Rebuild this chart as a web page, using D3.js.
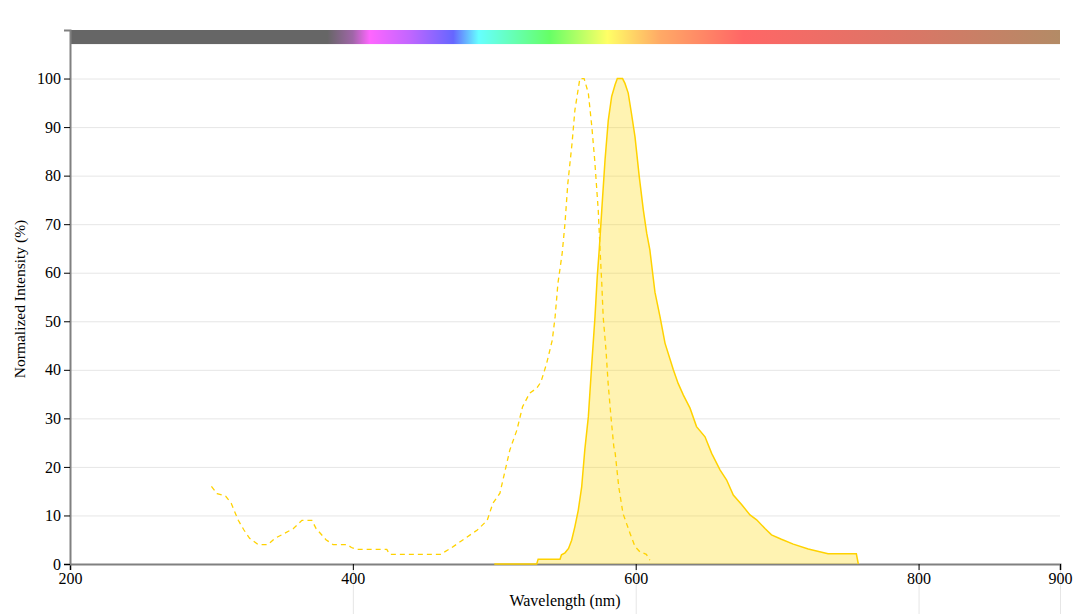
<!DOCTYPE html>
<html>
<head>
<meta charset="utf-8">
<script src="https://cdn.jsdelivr.net/npm/d3@7"></script>
<style>
  body { margin: 0; background: #fff; }
  svg text { font-family: "Liberation Serif", "Times New Roman", serif; }
  .grid line { stroke: #e6e6e6; stroke-width: 1; }
  .grid path { display: none; }
  .axis path { stroke: #808080; stroke-width: 2; }
  .axis line { stroke: #000; }
  .axis text { font-size: 16px; fill: #000; }
</style>
</head>
<body>
<div id="chart"></div>
<script>
// excitation spectrum (dashed), wavelength nm / normalized %
let exWave = [300, 304, 310, 314, 319, 323, 327, 333, 340, 345, 351, 358, 364, 371, 374, 381, 386, 396, 399, 403,
    424, 426, 462, 469, 478, 488, 495, 499, 504, 511, 516, 520, 525, 530, 533, 537, 541, 543, 545, 548,
    550, 552, 555, 557, 560.5, 563.5, 566.5, 569, 571, 573.5, 575, 576, 577, 579, 580.5, 582.5, 584.5, 585.5, 588, 591,
    596, 599.5, 603, 607.5, 610];
let exValue = [16, 14.5, 14, 12.5, 9, 7, 5.3, 4, 4, 5.3, 6.2, 7.3, 9, 9, 7.3, 5, 4, 4, 3.4, 3,
    3, 2, 2, 3.2, 5, 7, 9, 12.5, 14.6, 23.5, 27.6, 32.4, 35.2, 36.2, 37.5, 41.3, 46.1, 50.9, 57.8, 64,
    70.2, 78.4, 86.7, 93.5, 100, 100, 97, 90, 83.2, 72.9, 63.5, 57.8, 50.9, 44, 37.2, 30.3, 24.2, 22.8, 15.9, 10.4,
    6.3, 3.6, 2.5, 2, 0.8];

// emission spectrum (filled)
let emWave = [500, 530, 531, 546.5, 547.5, 550, 552.5, 554.7, 557, 559.4, 561.8, 564, 566.5, 568.8, 571.2, 572.8, 574.2, 576,
    578.3, 580.6, 583, 585.4, 587, 590.7, 592.4, 594.7, 597, 599.5, 602.5, 605.4, 607.8, 610, 613.6, 617.2, 620.7, 626.6,
    630, 633.7, 638.4, 643, 649, 653.7, 659.6, 664.3, 669, 675, 680.8, 685.5, 691.4, 696, 703, 711.4, 722, 736, 756, 757.4];
let emValue = [0, 0, 1, 1, 1.9, 2.3, 3.2, 4.9, 7.7, 11.1, 15.9, 23.5, 30.3, 40.6, 50.9, 59.2, 64.7, 72.9,
    83.2, 91.4, 96.3, 98.7, 100, 100, 99, 97, 92.8, 88, 79.8, 72.9, 68.1, 64.7, 56, 50.9, 45.5, 40,
    37.2, 34.8, 32.1, 28.3, 26.2, 22.8, 19.4, 17.3, 14.2, 12.2, 10.1, 9.1, 7.3, 6, 5.1, 4.1, 3.1, 2.1, 2.1, 0];

let xTicks = [200, 400, 600, 800, 900];
let yTicks = [0, 10, 20, 30, 40, 50, 60, 70, 80, 90, 100];

// visible spectrum strip along the top
let stripWave = [200, 382, 400, 412, 440, 471, 489, 539, 580, 600, 617, 676, 800, 900];
let stripColor = ["#666666", "#666666", "#a066a8", "#ff66ff", "#c266ff", "#6666ff", "#66ffff", "#66ff66", "#ffff66",
    "#ffd066", "#ffaa66", "#ff6666", "#d87766", "#b38b66"];

let exData = exWave.map((w, i) => ({ w: w, v: exValue[i] }));
let emData = emWave.map((w, i) => ({ w: w, v: emValue[i] }));

let width = 1080, height = 614;
let margin = { left: 70, right: 20, top: 30, bottom: 50 };
let innerW = width - margin.left - margin.right;
let innerH = height - margin.top - margin.bottom;

let svg = d3.select("#chart").append("svg")
    .attr("width", width)
    .attr("height", height);

let xScale = d3.scaleLinear().domain([200, 900]).range([0, innerW]);
let yScale = d3.scaleLinear().domain([0, 110]).range([innerH, 0]);

let g = svg.append("g")
    .attr("transform", "translate(" + margin.left + "," + margin.top + ")");

// gridlines
g.append("g")
    .attr("class", "grid")
    .call(d3.axisLeft(yScale).tickValues(yTicks).tickSize(-innerW).tickFormat(""));
g.append("g")
    .attr("class", "grid")
    .attr("transform", "translate(0," + innerH + ")")
    .call(d3.axisBottom(xScale).tickValues(xTicks.slice(1)).tickSize(innerH).tickFormat(""));

// spectrum strip
let grad = svg.append("defs").append("linearGradient")
    .attr("id", "spectrum")
    .attr("x1", "0%").attr("x2", "100%");
grad.selectAll("stop")
    .data(stripWave)
    .join("stop")
    .attr("offset", d => ((d - 200) / 700 * 100) + "%")
    .attr("stop-color", (d, i) => stripColor[i]);

g.append("rect")
    .attr("x", xScale(200))
    .attr("y", yScale(110))
    .attr("width", xScale(900) - xScale(200))
    .attr("height", yScale(107.1) - yScale(110))
    .attr("fill", "url(#spectrum)");

// axes
g.append("g")
    .attr("class", "axis")
    .attr("transform", "translate(0," + innerH + ")")
    .call(d3.axisBottom(xScale).tickValues(xTicks).tickSizeOuter(0).tickSize(6));

g.append("g")
    .attr("class", "axis")
    .call(d3.axisLeft(yScale).tickValues(yTicks).tickSizeOuter(0).tickSize(6));

// emission area
let area = d3.area()
    .x(d => xScale(d.w))
    .y0(yScale(0))
    .y1(d => yScale(d.v));
let line = d3.line()
    .x(d => xScale(d.w))
    .y(d => yScale(d.v));

g.append("path")
    .datum(emData)
    .attr("d", area)
    .attr("fill", "rgba(255, 215, 0, 0.3)");
g.append("path")
    .datum(emData)
    .attr("d", line)
    .attr("fill", "none")
    .attr("stroke", "#ffd200")
    .attr("stroke-width", 1.5);

// excitation line
g.append("path")
    .datum(exData)
    .attr("d", line)
    .attr("fill", "none")
    .attr("stroke", "#ffd200")
    .attr("stroke-width", 1.3)
    .attr("stroke-dasharray", "5,4");

// axis titles
svg.append("text")
    .attr("x", margin.left + innerW / 2)
    .attr("y", 606)
    .attr("text-anchor", "middle")
    .attr("font-size", 16)
    .text("Wavelength (nm)");

svg.append("text")
    .attr("transform", "translate(25,299) rotate(-90)")
    .attr("text-anchor", "middle")
    .attr("font-size", 15.5)
    .text("Normalized Intensity (%)");
</script>
</body>
</html>
